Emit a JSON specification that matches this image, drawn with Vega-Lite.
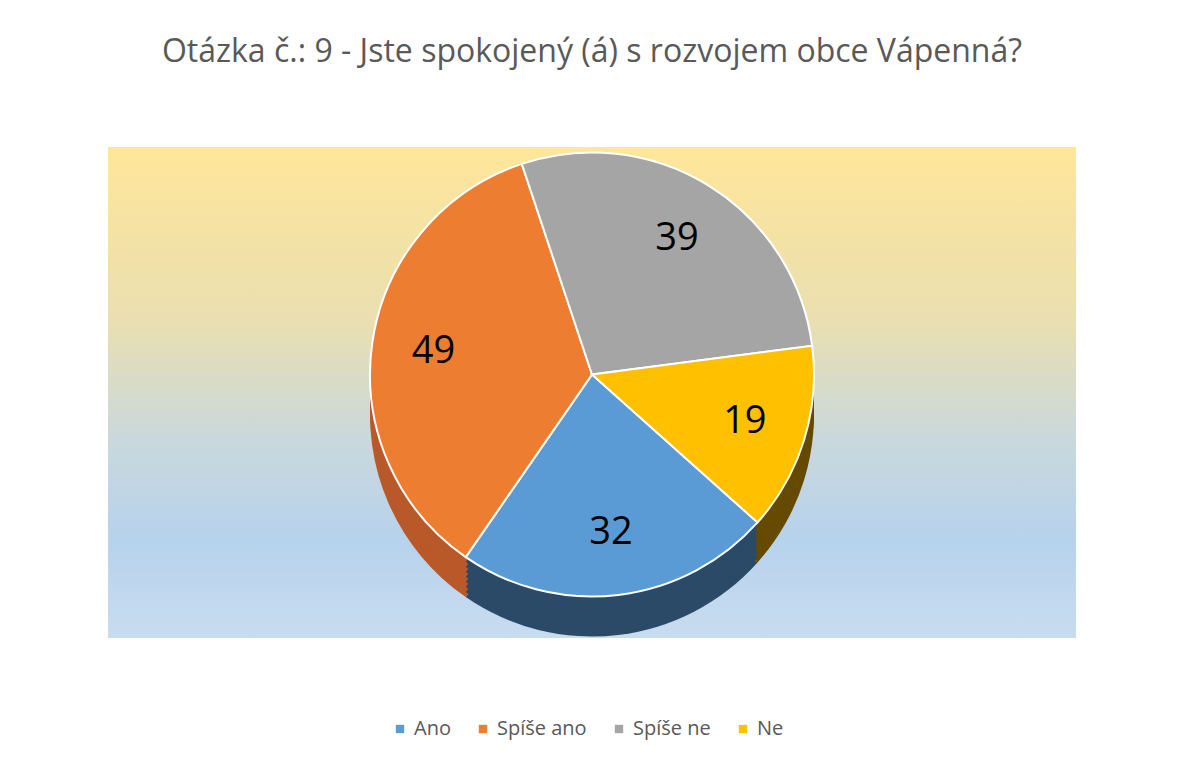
{
  "$schema": "https://vega.github.io/schema/vega-lite/v6.json",
  "width": 968,
  "height": 491,
  "autosize": "none",
  "padding": {"left": 108, "top": 147, "right": 102, "bottom": 124},
  "background": "white",
  "title": {
    "text": "Otázka č.: 9 - Jste spokojený (á) s rozvojem obce Vápenná?",
    "font": "Open Sans",
    "fontSize": 32,
    "fontWeight": "normal",
    "color": "#595959",
    "anchor": "middle",
    "offset": 78
  },
  "data": {
    "values": [
      {"odpoved": "Ano", "pocet": 32, "poradi": 1},
      {"odpoved": "Spíše ano", "pocet": 49, "poradi": 2},
      {"odpoved": "Spíše ne", "pocet": 39, "poradi": 3},
      {"odpoved": "Ne", "pocet": 19, "poradi": 4}
    ]
  },
  "config": {"view": {"stroke": null}},
  "layer": [
    {
      "mark": {
        "type": "rect",
        "fill": {
          "gradient": "linear",
          "x1": 0, "y1": 0, "x2": 0, "y2": 1,
          "stops": [
            {"offset": 0, "color": "#FFE699"},
            {"offset": 0.35, "color": "#EADFB0"},
            {"offset": 0.6, "color": "#C9D8DC"},
            {"offset": 0.8, "color": "#B7D2EC"},
            {"offset": 1, "color": "#C8DCF0"}
          ]
        }
      },
      "encoding": {}
    },
    {
      "layer": [
        {"mark": {"type": "arc", "radius": 222, "yOffset": 22, "stroke": null}},
        {"mark": {"type": "arc", "radius": 222, "yOffset": 17, "stroke": null}},
        {"mark": {"type": "arc", "radius": 222, "yOffset": 12, "stroke": null}},
        {"mark": {"type": "arc", "radius": 222, "yOffset": 7, "stroke": null}},
        {"mark": {"type": "arc", "radius": 222, "yOffset": 2, "stroke": null}},
        {"mark": {"type": "arc", "radius": 222, "yOffset": -3, "stroke": null}},
        {"mark": {"type": "arc", "radius": 222, "yOffset": -8, "stroke": null}},
        {"mark": {"type": "arc", "radius": 222, "yOffset": -13, "stroke": null}}
      ],
      "encoding": {
        "theta": {"field": "pocet", "type": "quantitative", "stack": true, "scale": {"range": [2.3, 8.5832]}},
        "order": {"field": "poradi", "type": "quantitative"},
        "color": {"field": "odpoved", "type": "nominal", "legend": null,
          "scale": {"domain": ["Ano", "Spíše ano", "Spíše ne", "Ne"], "range": ["#2B4A68", "#B9592A", "#404040", "#654A00"]}}
      }
    },
    {
      "mark": {"type": "arc", "radius": 222, "yOffset": -18, "stroke": "white", "strokeWidth": 2},
      "encoding": {
        "theta": {"field": "pocet", "type": "quantitative", "stack": true, "scale": {"range": [2.3, 8.5832]}},
        "order": {"field": "poradi", "type": "quantitative"},
        "color": {"field": "odpoved", "type": "nominal",
          "scale": {"domain": ["Ano", "Spíše ano", "Spíše ne", "Ne"], "range": ["#5B9BD5", "#ED7D31", "#A5A5A5", "#FFC000"]},
          "legend": {
            "title": null,
            "orient": "none",
            "legendX": 282,
            "legendY": 572,
            "direction": "horizontal",
            "symbolType": "square",
            "symbolSize": 70,
            "symbolStrokeWidth": 0,
            "labelFont": "Open Sans",
            "labelFontSize": 20,
            "labelColor": "#595959",
            "columnPadding": 22,
            "symbolOffset": 0
          }
        }
      }
    },
    {
      "mark": {"type": "text", "radius": 160, "yOffset": -18, "font": "Open Sans", "fontSize": 38, "color": "black"},
      "encoding": {
        "theta": {"field": "pocet", "type": "quantitative", "stack": true, "scale": {"range": [2.3, 8.5832]}},
        "order": {"field": "poradi", "type": "quantitative"},
        "text": {"field": "pocet", "type": "quantitative"}
      }
    }
  ],
  "resolve": {"scale": {"color": "independent"}}
}
